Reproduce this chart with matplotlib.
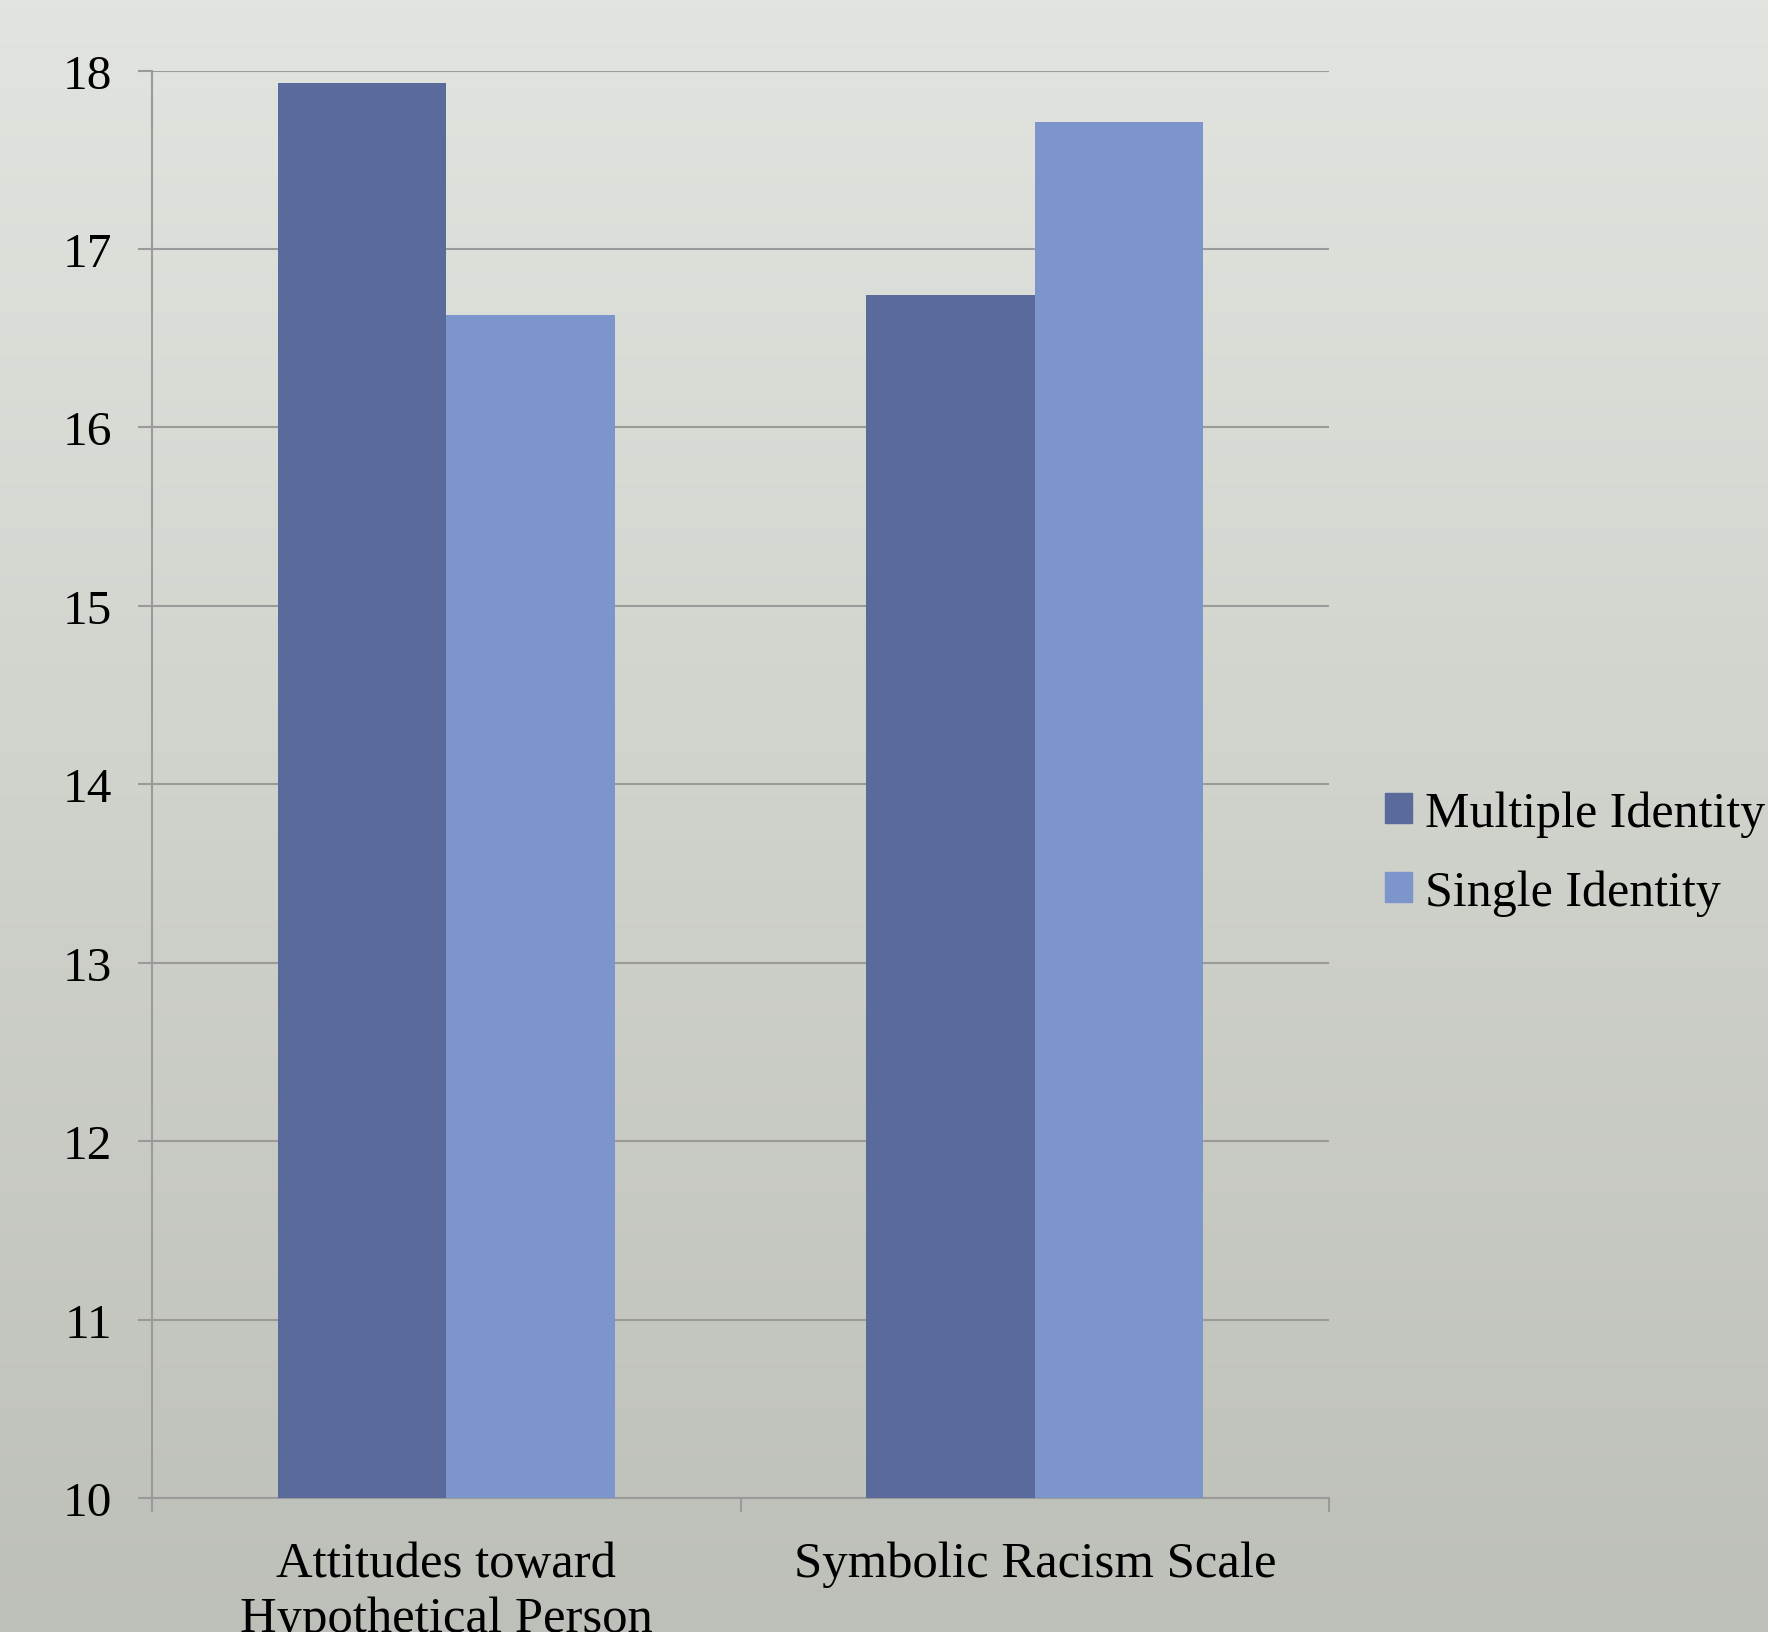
import numpy as np
import matplotlib
matplotlib.use("Agg")
import matplotlib.pyplot as plt
from matplotlib.patches import Patch

categories = ["Attitudes toward\nHypothetical Person", "Symbolic Racism Scale"]
series = ["Multiple Identity", "Single Identity"]
multiple = [17.93, 16.74]
single = [16.63, 17.71]
yticks = [10, 11, 12, 13, 14, 15, 16, 17, 18]

dark = "#5a6a9b"
light = "#7c95ca"
grid_col = "#9a9a9a"

plt.rcParams["font.family"] = ["Liberation Serif", "DejaVu Serif"]

fig = plt.figure(figsize=(17.68, 16.33), dpi=100)

# background gradient
bg = fig.add_axes([0, 0, 1, 1], zorder=-10)
grad = np.linspace(0, 1, 256).reshape(-1, 1)
top = np.array([226, 228, 223]) / 255
bot = np.array([189, 192, 184]) / 255
img = top + (bot - top) * grad[:, :, None]
bg.imshow(img, aspect="auto", extent=[0, 1, 0, 1])
bg.axis("off")

ax = fig.add_axes([0.086, 0.0821, 0.6657, 0.874])
ax.patch.set_alpha(0)

x = np.arange(len(categories))
w = 0.286
ax.bar(x - w / 2, multiple, w, color=dark, zorder=3, label=series[0])
ax.bar(x + w / 2, single, w, color=light, zorder=3, label=series[1])

ax.set_ylim(10, 18)
ax.set_xlim(-0.5, 1.5)
ax.set_yticks(yticks)
ax.yaxis.grid(True, color=grid_col, linewidth=1.5, zorder=0)

for s in ["top", "right"]:
    ax.spines[s].set_visible(False)
for s in ["left", "bottom"]:
    ax.spines[s].set_color(grid_col)
    ax.spines[s].set_linewidth(1.5)

ax.set_xticks(x)
ax.set_xticklabels(categories, fontsize=36.5, linespacing=1.22, va="top")
ax.set_xticks([-0.5, 0.5, 1.5], minor=True)
ax.tick_params(axis="x", which="major", length=0, pad=31)
ax.tick_params(axis="x", which="minor", length=10, color=grid_col, width=1.5)
ax.tick_params(axis="y", length=10, color=grid_col, width=1.5, labelsize=35.5, pad=19)

handles = [Patch(color=dark), Patch(color=light)]
fig.legend(handles, series, loc="center left", bbox_to_anchor=(0.769, 0.477),
           frameon=False, fontsize=36, handlelength=0.55, handleheight=0.55,
           handletextpad=0.25, labelspacing=0.65, borderpad=0)

fig.savefig("out.png", dpi=100)
